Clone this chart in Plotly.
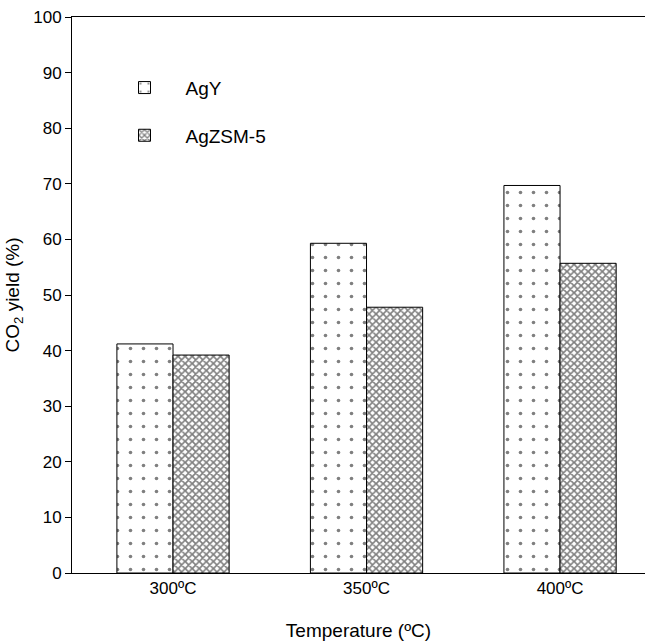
import plotly.graph_objects as go

categories = ["300ºC", "350ºC", "400ºC"]
agy = [41.2, 59.3, 69.7]
agzsm5 = [39.2, 47.8, 55.7]
y_ticks = list(range(0, 101, 10))

fig = go.Figure()
fig.add_trace(go.Bar(
    name="AgY", x=categories, y=agy, legendgroup="g1",
    marker=dict(color="white", line=dict(color="black", width=1),
                pattern=dict(shape=".", fgcolor="black", bgcolor="white", size=13, solidity=0.06)),
))
fig.add_trace(go.Bar(
    name="AgZSM-5", x=categories, y=agzsm5, legendgroup="g2",
    marker=dict(color="white", line=dict(color="black", width=1),
                pattern=dict(shape="x", fgcolor="black", bgcolor="white", size=5, solidity=0.55)),
))

fig.update_layout(
    width=645, height=643,
    margin=dict(l=72, r=0, t=17, b=70),
    paper_bgcolor="white", plot_bgcolor="white",
    barmode="group", bargap=0.42, bargroupgap=0,
    font=dict(family="Liberation Sans, Arial, sans-serif", size=17, color="black"),
    showlegend=True,
    legend=dict(x=0.055, y=0.907, xanchor="left", yanchor="top",
                font=dict(size=19), bgcolor="rgba(0,0,0,0)", tracegroupgap=20,
                itemwidth=72),
    xaxis=dict(range=[-0.522, 2.439], showline=True, linecolor="black", linewidth=1,
               mirror=True, ticks="", showgrid=False, zeroline=False,
               title=dict(text="Temperature (ºC)", font=dict(size=19), standoff=26),
               tickfont=dict(size=17)),
    yaxis=dict(range=[0, 100], tickvals=y_ticks, showline=True, linecolor="black", linewidth=1,
               ticks="outside", ticklen=6, tickcolor="black", showgrid=False, zeroline=False,
               title=dict(text="CO<sub>2</sub> yield (%)", font=dict(size=19), standoff=8),
               tickfont=dict(size=17)),
)

fig.write_html("out.html")
